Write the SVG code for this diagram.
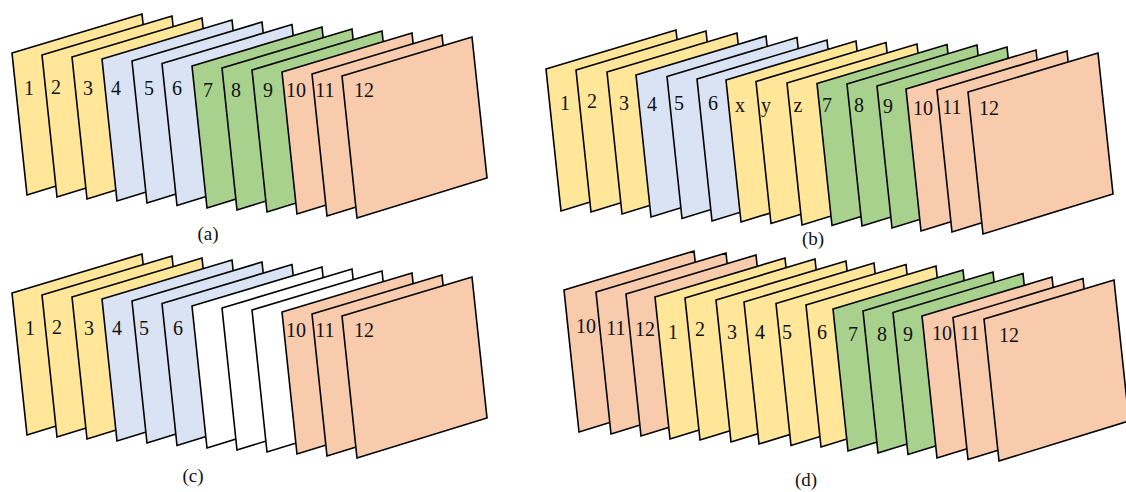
<svg xmlns="http://www.w3.org/2000/svg" xmlns:xlink="http://www.w3.org/1999/xlink" width="1126" height="492" viewBox="0 0 1126 492">
<style>
.s{stroke:#000;stroke-width:1.6;stroke-linejoin:miter}
.Y{fill:#FFE699}.B{fill:#DAE3F3}.G{fill:#A9D18E}.R{fill:#F8CBAD}.W{fill:#FFFFFF}
text{font-family:"Liberation Serif","Times New Roman",serif;font-size:20px;fill:#111;text-anchor:middle}
.cap{font-size:19px}
</style>
<defs>
<path id="sh" class="s" d="M0,0 L130,-39 L145,102 L15,142 Z"/>
</defs>
<rect width="1126" height="492" fill="#fff"/>
<g id="panel-a">
<use xlink:href="#sh" class="Y" x="12" y="53"/>
<use xlink:href="#sh" class="Y" x="42" y="55"/>
<use xlink:href="#sh" class="Y" x="72" y="57"/>
<use xlink:href="#sh" class="B" x="102" y="59"/>
<use xlink:href="#sh" class="B" x="132" y="61"/>
<use xlink:href="#sh" class="B" x="162" y="63.5"/>
<use xlink:href="#sh" class="G" x="192" y="66"/>
<use xlink:href="#sh" class="G" x="222" y="68"/>
<use xlink:href="#sh" class="G" x="252" y="70"/>
<use xlink:href="#sh" class="R" x="282" y="72"/>
<use xlink:href="#sh" class="R" x="312" y="74"/>
<use xlink:href="#sh" class="R" x="342" y="76"/>
<text x="29" y="95">1</text><text x="56" y="94">2</text><text x="88" y="95">3</text>
<text x="116" y="95">4</text><text x="149" y="95">5</text><text x="177" y="95">6</text>
<text x="208" y="96.5">7</text><text x="236" y="96.5">8</text><text x="268" y="96.5">9</text>
<text x="296" y="96.5">10</text><text x="325" y="96.5">11</text><text x="364" y="96.5">12</text>
<text class="cap" x="208" y="240">(a)</text>
</g>
<g id="panel-b">
<use xlink:href="#sh" class="Y" x="546" y="69"/>
<use xlink:href="#sh" class="Y" x="576" y="70"/>
<use xlink:href="#sh" class="Y" x="607" y="72"/>
<use xlink:href="#sh" class="B" x="636" y="75"/>
<use xlink:href="#sh" class="B" x="667" y="76.5"/>
<use xlink:href="#sh" class="B" x="697" y="79"/>
<use xlink:href="#sh" class="Y" x="726" y="80"/>
<use xlink:href="#sh" class="Y" x="756" y="81.5"/>
<use xlink:href="#sh" class="Y" x="787" y="83"/>
<use xlink:href="#sh" class="G" x="817" y="83.5"/>
<use xlink:href="#sh" class="G" x="847" y="84"/>
<use xlink:href="#sh" class="G" x="877" y="86"/>
<use xlink:href="#sh" class="R" x="906" y="89"/>
<use xlink:href="#sh" class="R" x="937" y="90"/>
<use xlink:href="#sh" class="R" x="968" y="92"/>
<text x="565" y="110">1</text><text x="592" y="108">2</text><text x="624" y="110">3</text>
<text x="652" y="110.5">4</text><text x="679" y="110">5</text><text x="713" y="110">6</text>
<text x="740" y="111.5">x</text><text x="766" y="111.5">y</text><text x="798" y="111.5">z</text>
<text x="827" y="112">7</text><text x="859" y="112">8</text><text x="888" y="112.5">9</text>
<text x="923" y="114.5">10</text><text x="952" y="113.5">11</text><text x="989" y="115">12</text>
<text class="cap" x="813" y="245">(b)</text>
</g>
<g id="panel-c">
<use xlink:href="#sh" class="Y" x="12" y="293"/>
<use xlink:href="#sh" class="Y" x="42" y="295"/>
<use xlink:href="#sh" class="Y" x="72" y="297"/>
<use xlink:href="#sh" class="B" x="102" y="299"/>
<use xlink:href="#sh" class="B" x="132" y="301"/>
<use xlink:href="#sh" class="B" x="162" y="303.5"/>
<use xlink:href="#sh" class="W" x="192" y="306"/>
<use xlink:href="#sh" class="W" x="222" y="308"/>
<use xlink:href="#sh" class="W" x="252" y="310"/>
<use xlink:href="#sh" class="R" x="282" y="312"/>
<use xlink:href="#sh" class="R" x="312" y="314"/>
<use xlink:href="#sh" class="R" x="342" y="316"/>
<text x="30" y="334.5">1</text><text x="57" y="333.5">2</text><text x="89" y="334.5">3</text>
<text x="117" y="334.5">4</text><text x="144" y="334.5">5</text><text x="178" y="334.5">6</text>
<text x="296" y="336.5">10</text><text x="325" y="336.5">11</text><text x="364" y="336.5">12</text>
<text class="cap" x="193" y="482">(c)</text>
</g>
<g id="panel-d">
<use xlink:href="#sh" class="R" x="564" y="290"/>
<use xlink:href="#sh" class="R" x="596" y="292"/>
<use xlink:href="#sh" class="R" x="626" y="294"/>
<use xlink:href="#sh" class="Y" x="655" y="297"/>
<use xlink:href="#sh" class="Y" x="685" y="298"/>
<use xlink:href="#sh" class="Y" x="716" y="300"/>
<use xlink:href="#sh" class="Y" x="744" y="302"/>
<use xlink:href="#sh" class="Y" x="776" y="303.5"/>
<use xlink:href="#sh" class="Y" x="806" y="305"/>
<use xlink:href="#sh" class="G" x="833" y="309"/>
<use xlink:href="#sh" class="G" x="863" y="311"/>
<use xlink:href="#sh" class="G" x="893" y="312.5"/>
<use xlink:href="#sh" class="R" x="922" y="316"/>
<use xlink:href="#sh" class="R" x="953" y="317.5"/>
<use xlink:href="#sh" class="R" x="984" y="319"/>
<text x="586" y="333">10</text><text x="616" y="335">11</text><text x="645" y="336">12</text>
<text x="673" y="339">1</text><text x="700" y="336">2</text><text x="732" y="339">3</text>
<text x="760" y="339">4</text><text x="787" y="339">5</text><text x="822" y="339">6</text>
<text x="853" y="341">7</text><text x="882" y="341">8</text><text x="908" y="341">9</text>
<text x="942" y="340">10</text><text x="970" y="340">11</text><text x="1009" y="342">12</text>
<text class="cap" x="806" y="486">(d)</text>
</g>
</svg>
